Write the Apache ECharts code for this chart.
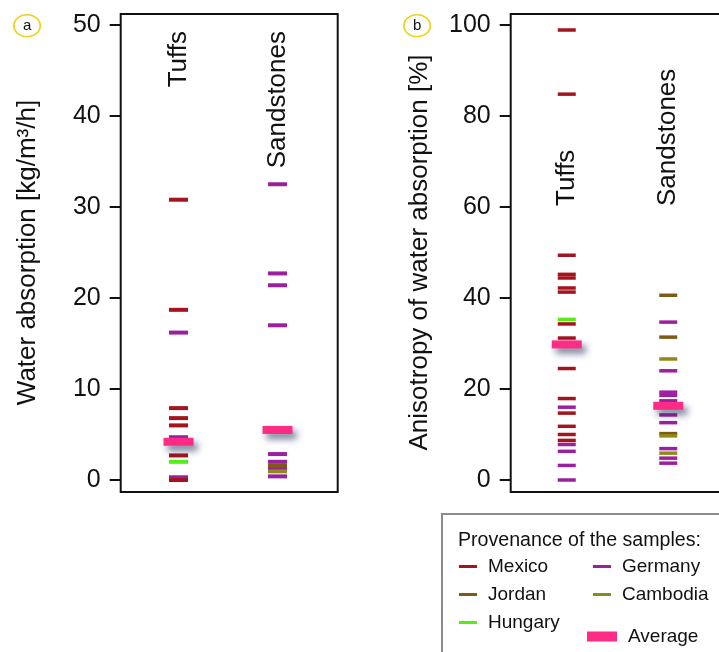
<!DOCTYPE html>
<html>
<head>
<meta charset="utf-8">
<title>Water absorption of tuffs and sandstones</title>
<script src="https://cdn.jsdelivr.net/npm/echarts@6/dist/echarts.min.js"></script>
<style>
    html, body { margin: 0; padding: 0; background: #fff; }
    #chart { width: 719px; height: 652px; }
</style>
</head>
<body>
<div id="chart"></div>
<script>
// categories on the x axis of both panels
const categories = [ 'Tuffs', 'Sandstones' ];

// panel a: water absorption [kg/m3/h]
const absTicks = [ 0, 10, 20, 30, 40, 50 ];
const absTuffsMexico = [ 30.8, 18.7, 7.9, 6.8, 6.0, 2.7, 0.0 ];
const absTuffsGermany = [ 16.2, 4.7, 0.3 ];
const absTuffsHungary = [ 2.0 ];
const absSandGermany = [ 32.5, 22.7, 21.4, 17.0, 2.85, 2.0, 1.3, 0.4 ];
const absSandJordan = [ 1.6 ];
const absSandCambodia = [ 0.95 ];
const absAverage = [ 4.2, 5.5 ];

// panel b: anisotropy of water absorption [%]
const anisoTicks = [ 0, 20, 40, 60, 80, 100 ];
const anisoTuffsMexico = [ 98.9, 84.8, 49.4, 45.2, 44.4, 42.2, 41.3, 34.3, 31.2, 29.8, 24.5, 17.9, 14.7, 11.8, 10.0, 8.7 ];
const anisoTuffsGermany = [ 16.0, 7.8, 6.3, 3.2, 0.0 ];
const anisoTuffsHungary = [ 35.3 ];
const anisoSandJordan = [ 40.6, 31.4, 10.2 ];
const anisoSandGermany = [ 34.7, 24.0, 19.3, 18.6, 17.4, 14.3, 12.6, 6.9, 4.8, 3.7 ];
const anisoSandCambodia = [ 26.6, 9.7, 5.9 ];
const anisoAverage = [ 29.8, 16.3 ];

const colors = {
    Mexico: '#A3141E',
    Germany: '#9B209F',
    Jordan: '#7E5B14',
    Cambodia: '#8D8B17',
    Hungary: '#55EE14',
    Average: '#FF2C86'
};

const FONT = '"Liberation Sans", Arial, Helvetica, sans-serif';

const chartContext = {
    pts( cat, arr ) {
        return arr.map( v => [ cat, v ] );
    },
    sampleSeries( name, data, panel ) {
        return {
            type: 'scatter', name, data,
            xAxisIndex: panel, yAxisIndex: panel,
            symbol: 'rect',
            symbolSize: panel === 0 ? [ 19, 4 ] : [ 18, 3.5 ],
            itemStyle: { color: colors[name], opacity: 1 },
            emphasis: { disabled: true },
            z: 3
        };
    },
    averageSeries( data, panel ) {
        return {
            type: 'scatter', name: 'Average',
            data: data.map( ( v, i ) => [ categories[i], v ] ),
            xAxisIndex: panel, yAxisIndex: panel,
            symbol: 'rect', symbolSize: [ 30, 8 ],
            itemStyle: {
                color: colors.Average, opacity: 1,
                shadowColor: 'rgba(40,50,90,0.65)', shadowBlur: 7,
                shadowOffsetX: 4, shadowOffsetY: 5
            },
            emphasis: { disabled: true },
            z: 5
        };
    },
    yAxis( gi, max, interval, offset, name, gap ) {
        return {
            type: 'value', gridIndex: gi, min: 0, max, interval, offset,
            name, nameLocation: 'middle', nameRotate: 90, nameGap: gap,
            nameTextStyle: { fontFamily: FONT, fontSize: 26, color: '#111' },
            axisLine: { show: false },
            axisTick: { show: true, length: 11, lineStyle: { color: '#111', width: 2 } },
            axisLabel: { fontFamily: FONT, fontSize: 25, color: '#111', margin: 20 },
            splitLine: { show: false }
        };
    },
    xAxis( gi, position, offset ) {
        return {
            type: 'category', gridIndex: gi, data: categories, position, offset,
            axisLine: { show: false }, axisTick: { show: false },
            axisLabel: { inside: true, rotate: 90, margin: 6, fontFamily: FONT, fontSize: 26, color: '#111' },
            splitLine: { show: false }
        };
    },
    legend( names, left, top, w, h ) {
        return {
            data: names, orient: 'vertical', left, top, padding: 0,
            itemGap: 9, itemWidth: w, itemHeight: h, icon: 'rect',
            selectedMode: false,
            textStyle: { fontFamily: FONT, fontSize: 19, color: '#111', padding: [ 0, 0, 0, 6 ] }
        };
    },
    init() {
        const chart = echarts.init( document.getElementById( 'chart' ), null, { renderer: 'canvas' } );
        const p = this.pts;
        const series = [
            this.sampleSeries( 'Germany', p( 'Tuffs', absTuffsGermany ).concat( p( 'Sandstones', absSandGermany ) ), 0 ),
            this.sampleSeries( 'Mexico', p( 'Tuffs', absTuffsMexico ), 0 ),
            this.sampleSeries( 'Hungary', p( 'Tuffs', absTuffsHungary ), 0 ),
            this.sampleSeries( 'Jordan', p( 'Sandstones', absSandJordan ), 0 ),
            this.sampleSeries( 'Cambodia', p( 'Sandstones', absSandCambodia ), 0 ),
            this.averageSeries( absAverage, 0 ),
            this.sampleSeries( 'Germany', p( 'Tuffs', anisoTuffsGermany ).concat( p( 'Sandstones', anisoSandGermany ) ), 1 ),
            this.sampleSeries( 'Mexico', p( 'Tuffs', anisoTuffsMexico ), 1 ),
            this.sampleSeries( 'Hungary', p( 'Tuffs', anisoTuffsHungary ), 1 ),
            this.sampleSeries( 'Jordan', p( 'Sandstones', anisoSandJordan ), 1 ),
            this.sampleSeries( 'Cambodia', p( 'Sandstones', anisoSandCambodia ), 1 ),
            this.averageSeries( anisoAverage, 1 )
        ];

        const frame = ( x, w ) => ( {
            type: 'rect', shape: { x, y: 14, width: w, height: 478 },
            style: { fill: null, stroke: '#111', lineWidth: 2 }, silent: true
        } );
        const badge = ( x, txt ) => ( {
            type: 'group', left: x - 13, top: 14, children: [
                { type: 'circle', shape: { cx: 13, cy: 11, r: 11 }, scaleX: 1.2, originX: 13, originY: 11,
                  style: { fill: '#fff', stroke: '#EDD31C', lineWidth: 1.5 } },
                { type: 'text', x: 13, y: 11, style: { text: txt, fontFamily: FONT, fontSize: 15, fill: '#111', align: 'center', verticalAlign: 'middle' } }
            ]
        } );

        chart.setOption( {
            animation: false,
            backgroundColor: '#fff',
            title: {
                text: 'Provenance of the samples:', left: 458, top: 531, padding: 0,
                textStyle: { fontFamily: FONT, fontSize: 19.6, fontWeight: 'normal', color: '#111' }
            },
            legend: [
                this.legend( [ 'Mexico', 'Jordan', 'Hungary' ], 459, 557, 18, 3 ),
                this.legend( [ 'Germany', 'Cambodia' ], 593, 557, 18, 3 ),
                this.legend( [ 'Average' ], 587, 627, 30, 10 )
            ],
            grid: [
                { left: 129, width: 198, top: 25, height: 455 },
                { left: 516, width: 213, top: 25, height: 455 }
            ],
            xAxis: [ this.xAxis( 0, 'top', 0 ), this.xAxis( 1, 'bottom', -268 ) ],
            yAxis: [
                this.yAxis( 0, absTicks[absTicks.length - 1], absTicks[1] - absTicks[0], 8.3, 'Water absorption [kg/m³/h]', 80 ),
                this.yAxis( 1, anisoTicks[anisoTicks.length - 1], anisoTicks[1] - anisoTicks[0], 5.3, 'Anisotropy of water absorption [%]', 78 )
            ],
            series,
            graphic: [
                frame( 120.7, 217 ),
                frame( 510.7, 240 ),
                { type: 'rect', shape: { x: 442, y: 514, width: 290, height: 150 },
                  style: { fill: null, stroke: '#8a8a8a', lineWidth: 2 }, silent: true, z: -1 },
                badge( 26, 'a' ),
                badge( 416, 'b' )
            ]
        } );
    }
};

!(function () {
    document.addEventListener( 'DOMContentLoaded', function () {
        chartContext.init();
    } );
})();
</script>
</body>
</html>
